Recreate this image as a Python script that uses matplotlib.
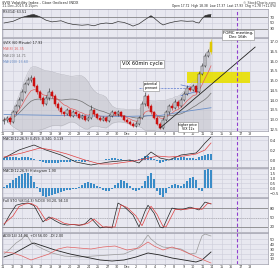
import numpy as np
import pandas as pd
import matplotlib
matplotlib.use("Agg")
import matplotlib.pyplot as plt

# ---- data ----
opens = [12.90, 12.97, 13.07, 12.86, 13.38, 13.69, 14.00, 14.41, 14.83, 15.03,
         15.13, 14.72, 14.41, 14.10, 13.79, 14.10, 14.41, 14.21, 13.79, 13.59,
         13.38, 13.28, 13.48, 13.17, 13.38, 13.28, 13.07, 13.17, 12.97, 13.07,
         13.48, 13.28, 13.07, 12.97, 13.07, 12.92, 13.17, 13.38, 13.28, 13.38,
         13.17, 12.97, 12.86, 12.76, 12.66, 12.76, 13.07, 13.79, 14.21, 13.69,
         13.38, 13.07, 12.76, 12.55, 12.97, 13.38, 13.69, 13.59, 13.90, 13.69,
         14.00, 14.31, 14.62, 14.52, 14.72, 14.41, 15.34, 15.75, 16.27, 16.47]
closes = [12.97, 13.07, 12.86, 13.38, 13.69, 14.00, 14.41, 14.83, 15.03, 15.13,
          14.72, 14.41, 14.10, 13.79, 14.10, 14.41, 14.21, 13.79, 13.59, 13.38,
          13.28, 13.48, 13.17, 13.38, 13.28, 13.07, 13.17, 12.97, 13.07, 13.48,
          13.28, 13.07, 12.97, 13.07, 12.92, 13.17, 13.38, 13.28, 13.38, 13.17,
          12.97, 12.86, 12.76, 12.66, 12.76, 13.07, 13.79, 14.21, 13.69, 13.38,
          13.07, 12.76, 12.55, 12.97, 13.38, 13.69, 13.59, 13.90, 13.69, 14.00,
          14.31, 14.62, 14.52, 14.72, 14.41, 15.34, 15.75, 16.27, 16.47, 16.99]
highs = [13.10, 13.18, 13.15, 13.50, 13.80, 14.15, 14.55, 14.95, 15.20, 15.30,
         15.22, 14.85, 14.50, 14.20, 14.25, 14.60, 14.50, 14.30, 13.90, 13.70,
         13.45, 13.60, 13.55, 13.50, 13.45, 13.35, 13.30, 13.25, 13.20, 13.75,
         13.55, 13.35, 13.15, 13.20, 13.15, 13.30, 13.50, 13.45, 13.50, 13.45,
         13.25, 13.05, 12.95, 12.85, 12.90, 13.20, 13.95, 14.40, 14.30, 13.80,
         13.45, 13.15, 12.85, 13.10, 13.50, 13.80, 13.85, 14.05, 14.00, 14.15,
         14.45, 14.75, 14.70, 14.85, 14.80, 15.50, 15.90, 16.45, 16.65, 17.15]
lows = [12.75, 12.88, 12.75, 12.80, 13.30, 13.60, 13.95, 14.35, 14.75, 14.95,
        14.65, 14.30, 14.00, 13.70, 13.72, 14.02, 14.10, 13.70, 13.50, 13.30,
        13.20, 13.22, 13.10, 13.12, 13.20, 13.00, 13.02, 12.90, 12.92, 13.02,
        13.20, 13.00, 12.90, 12.92, 12.85, 12.88, 13.10, 13.22, 13.20, 13.10,
        12.90, 12.80, 12.70, 12.60, 12.62, 12.70, 13.00, 13.70, 13.60, 13.30,
        13.00, 12.70, 12.48, 12.50, 12.90, 13.30, 13.50, 13.55, 13.60, 13.62,
        13.95, 14.25, 14.45, 14.48, 14.35, 14.35, 15.28, 15.70, 16.20, 16.40]

long_ma_x = [0, 20, 40, 52, 60, 69]
long_ma = [13.25, 13.20, 13.15, 13.20, 13.40, 13.60]

rsi_x = [0, 3, 6, 9, 10, 12, 14, 16, 19, 21, 23, 26, 28, 30, 32, 34, 36, 38, 40,
         42, 43, 45, 47, 49, 50, 52, 53, 55, 57, 59, 61, 63, 64, 65, 66, 67, 68, 69]
rsi = [50, 56, 70, 79, 80, 72, 60, 54, 58, 50, 45, 42, 44, 40, 47, 50, 48, 55, 52,
       44, 39, 47, 62, 76, 68, 50, 43, 50, 55, 58, 56, 57, 52, 50, 65, 76, 79, 80]

macd_x = [0, 5, 10, 14, 19, 24, 29, 35, 42, 45, 49, 52, 55, 59, 64, 65, 67, 69]
macd = [0.04, 0.20, 0.30, 0.20, 0.10, -0.04, -0.10, -0.04, 0.00, -0.06, 0.16,
        0.04, 0.00, 0.10, 0.14, 0.20, 0.34, 0.46]
signal_x = [0, 6, 12, 16, 21, 27, 32, 36, 42, 47, 51, 55, 60, 64, 67, 69]
signal = [0.06, 0.14, 0.24, 0.20, 0.12, 0.00, -0.08, -0.08, -0.03, 0.02, 0.08,
          0.06, 0.08, 0.12, 0.20, 0.34]
macd_hist = [0.05, 0.06, 0.06, 0.07, 0.06, 0.05, 0.06, 0.07, 0.06, 0.05,
             0.03, 0.01, -0.02, -0.04, -0.05, -0.06, -0.06, -0.05, -0.05, -0.04,
             -0.04, -0.03, -0.03, -0.02, -0.02, -0.02, -0.03, -0.03, -0.02, 0.00,
             0.01, 0.00, 0.00, 0.01, 0.02, 0.03, 0.04, 0.04, 0.03, 0.02,
             0.01, 0.00, -0.01, -0.02, -0.01, 0.02, 0.05, 0.08, 0.09, 0.07,
             0.03, -0.02, -0.05, -0.04, -0.02, 0.00, 0.02, 0.04, 0.05, 0.06,
             0.06, 0.05, 0.05, 0.04, 0.03, 0.06, 0.09, 0.11, 0.12, 0.12]

hist2 = [0.1, 0.3, 0.6, 0.9, 1.1, 1.3, 1.5, 1.6, 1.6, 1.3, 0.7, 0.1,
         -0.4, -0.8, -0.9, -0.8, -0.7, -0.6, -0.5, -0.4, -0.3, -0.2, -0.2, -0.1, -0.1,
         0.1, 0.3, 0.5, 0.7, 0.6, 0.4, 0.2, 0.1,
         -0.2, -0.3, -0.3, -0.1,
         0.3, 0.6, 0.9, 0.8, 0.5, 0.2,
         -0.2, -0.3, -0.2, 0.2,
         0.8, 1.3, 1.6, 1.0,
         -0.3, -0.7, -0.9, -0.5,
         0.1, 0.3, 0.4, 0.3, 0.2, 0.4,
         0.8, 1.1, 1.2, 0.9, -0.2, -0.3,
         1.9, 2.0, 1.9]

stoch_k_x = [0, 2, 4, 6, 8, 10, 13, 15, 17, 19, 21, 23, 25, 27, 29, 32, 34, 36, 38,
             40, 43, 45, 47, 48, 50, 52, 53, 56, 59, 62, 65, 67, 69]
stoch_k = [26, 60, 89, 94, 96, 88, 36, 52, 40, 30, 26, 28, 25, 30, 48, 17, 20, 17,
           96, 85, 58, 20, 70, 89, 64, 20, 17, 80, 74, 83, 74, 99, 93]
stoch_d_x = [0, 3, 5, 7, 9, 11, 14, 16, 18, 20, 22, 24, 26, 28, 30, 33, 35, 37, 39,
             41, 44, 46, 48, 49, 51, 53, 54, 57, 60, 63, 66, 68, 69]
stoch_d = [30, 55, 85, 93, 95, 85, 40, 50, 42, 32, 28, 27, 26, 32, 45, 20, 20, 20,
           90, 82, 55, 24, 66, 86, 60, 22, 20, 76, 75, 80, 76, 96, 94]

di_plus_x = [0, 2, 4, 6, 7, 8, 9, 11, 13, 16, 20, 25, 30, 35, 40, 44, 46, 47, 48,
             49, 51, 53, 56, 59, 62, 64, 65, 66, 67, 69]
di_plus = [20, 30, 42, 50, 58, 54, 44, 36, 30, 22, 16, 14, 16, 18, 20, 30, 40, 50,
           58, 50, 40, 34, 32, 30, 20, 22, 40, 56, 60, 56]
adx_x = [0, 3, 6, 9, 10, 13, 17, 22, 27, 32, 36, 40, 44, 48, 52, 56, 60, 64, 66, 69]
adx = [14, 20, 30, 40, 42, 36, 28, 20, 14, 8, 6, 8, 14, 22, 18, 12, 8, 4, 8, 24]
di_minus_x = [0, 3, 6, 9, 12, 15, 18, 21, 25, 29, 33, 37, 41, 45, 48, 50, 53, 56,
              59, 62, 65, 69]
di_minus = [24, 22, 16, 8, 14, 20, 30, 34, 32, 30, 34, 36, 28, 32, 44, 36, 28, 34,
            28, 20, 12, 2]

date_labels = ["11", "12", "13", "16", "17", "18", "19", "20", "23", "24", "25",
               "27", "30", "Dec", "2", "3", "4", "7", "8", "9", "10", "11", "14",
               "15", "16", "17", "18"]

# ---- layout ----
W, H = 280, 269
BG = "#e8e8f0"
GRID = "#cdcdda"
FOMC_X = 77.7
XLIM = (-0.67, 88)

fig = plt.figure(figsize=(W / 100, H / 100), dpi=100)
fig.patch.set_facecolor("white")


def panel(y0, y1):
    ax = fig.add_axes([2 / W, 1 - y1 / H, 266 / W, (y1 - y0) / H])
    ax.set_facecolor(BG)
    ax.set_xlim(*XLIM)
    for s in ax.spines.values():
        s.set_color("#9a9aa8")
        s.set_linewidth(0.5)
    ax.yaxis.tick_right()
    ax.tick_params(axis="y", labelsize=2.8, length=0, pad=1, colors="#333333")
    ax.tick_params(axis="x", length=0, labelbottom=False)
    day_pos = (np.arange(len(date_labels)) * 9.5 - 1) / 3
    ax.set_xticks(day_pos)
    ax.grid(True, color=GRID, lw=0.4)
    ax.set_axisbelow(True)
    ax.axvline(FOMC_X, color="#9040d0", lw=0.8, ls=(0, (3, 2)), zorder=5)
    return ax, day_pos


def legend(ax, items):
    for k, (txt, col) in enumerate(items):
        ax.text(0.005, 0.97 - k * 0.07, txt, transform=ax.transAxes, fontsize=2.4,
                color=col, va="top", ha="left")


idx = np.arange(len(closes))

# header
fig.text(2 / W, 1 - 3 / H, "$VIX Volatility Index - Cboe (Indices) INDX", fontsize=2.6,
         va="center", color="#222222")
fig.text(2 / W, 1 - 6.5 / H, "11-Dec-2015 4:15pm", fontsize=2.4, va="center",
         color="#444444")
fig.text(276 / W, 1 - 3 / H, "\u00a9 StockCharts.com", fontsize=2.4, va="center",
         ha="right", color="#444444")
fig.text(276 / W, 1 - 6.5 / H,
         "Open 17.72  High 18.38  Low 17.37  Last 17.93  Chg +1.78 (+11.0%)",
         fontsize=2.2, va="center", ha="right", color="#222222")

# RSI panel
ax_rsi, _ = panel(9, 37)
ax_rsi.set_ylim(0, 100)
ax_rsi.set_yticks([30, 50, 70])
ax_rsi.axhline(70, color="#777777", lw=0.5)
ax_rsi.axhline(30, color="#777777", lw=0.5)
ax_rsi.plot(rsi_x, rsi, color="#333333", lw=0.5)
ax_rsi.fill_between(rsi_x, rsi, 70, where=np.array(rsi) > 70, interpolate=True,
                    color="#333333", lw=0)
legend(ax_rsi, [("RSI(14) 63.51", "#222222")])

# main price panel
ax, day_pos = panel(38, 131)
ax.set_ylim(12.4, 17.2)
ax.set_yticks(np.arange(12.5, 17.01, 0.5))
ax.yaxis.set_major_formatter(matplotlib.ticker.FormatStrFormatter("%.1f"))

c = pd.Series(closes)
mid = c.rolling(20, min_periods=2).mean()
sd = c.rolling(20, min_periods=2).std()
ax.fill_between(idx, mid - 2 * sd, mid + 2 * sd, color="#c4c4cc", alpha=0.6, lw=0)
ax.plot(idx, mid - 2 * sd, color="#b0b0b8", lw=0.3)
ax.plot(idx, mid + 2 * sd, color="#b0b0b8", lw=0.3)
ax.plot(idx, mid, color="#707070", lw=0.5)
ax.plot(idx, c.ewm(span=8).mean(), color="#e06060", lw=0.5)
ax.plot(long_ma_x, long_ma, color="#6a8fc8", lw=0.6)

# yellow target zone and trend line
ax.fill_between([61, 82], 14.88, 15.44, color="#e8e000", alpha=0.9, lw=0, zorder=1)
ax.plot([52, 83.7], [12.55, 16.73], color="#222222", lw=0.6, zorder=4)
ax.plot([45, 62], [14.62, 14.62], color="#5a78d0", lw=0.5, ls=(0, (3, 1.5)))
ax.plot([59, 64.5], [14.78, 14.58], color="#5a78d0", lw=0.5)
ax.plot([59, 64.5], [14.22, 14.45], color="#5a78d0", lw=0.5)

for i in idx:
    o, cl, hi, lo = opens[i], closes[i], highs[i], lows[i]
    up = cl >= o
    col = "#222222" if up else "#cc1010"
    if i == len(closes) - 1:
        col = "#e0c800"
    ax.vlines(i, lo, hi, color=col, lw=0.4, zorder=3)
    body = max(abs(cl - o), 0.03)
    ax.bar(i, body, bottom=min(o, cl), width=0.75, zorder=3,
           facecolor=(BG if up and i != len(closes) - 1 else col),
           edgecolor=col, lw=0.35)

legend(ax, [("$VIX (60 Minute) 17.93", "#222222"), ("MA(8) 16.35", "#e06060"),
            ("MA(20) 14.71", "#707070"), ("MA(200) 13.60", "#6a8fc8")])

ax.tick_params(axis="x", labelbottom=True, labelsize=2.4, pad=0.5, colors="#333333")
ax.set_xticklabels(date_labels)

# MACD panel
ax_m, _ = panel(136, 167)
ax_m.set_ylim(-0.14, 0.48)
ax_m.set_yticks([0.0, 0.2, 0.4])
ax_m.bar(idx, macd_hist, width=0.8, color="#3a8cc8", lw=0)
ax_m.plot(macd_x, macd, color="#222222", lw=0.5)
ax_m.plot(signal_x, signal, color="#e04040", lw=0.5)
legend(ax_m, [("MACD(12,26,9) 0.459, 0.340, 0.119", "#222222")])

# histogram panel
ax_h, _ = panel(168, 197)
ax_h.set_ylim(-0.9, 2.1)
ax_h.set_yticks([-0.5, 0.0, 0.5, 1.0, 1.5, 2.0])
ax_h.bar(idx, hist2, width=0.8, color="#3a8cc8", lw=0)
legend(ax_h, [("MACD(12,26,9) Histogram 1.90", "#222222")])

# stochastic panel
ax_s, _ = panel(198, 232)
ax_s.set_ylim(4, 112)
ax_s.set_yticks([20, 50, 80])
ax_s.axhline(80, color="#777777", lw=0.5)
ax_s.axhline(20, color="#777777", lw=0.5)
ax_s.axhline(50, color="#999999", lw=0.4, ls=(0, (2, 2)))
ax_s.plot(stoch_k_x, stoch_k, color="#222222", lw=0.5)
ax_s.plot(stoch_d_x, stoch_d, color="#e04040", lw=0.5)
legend(ax_s, [("Full STO %K(14,3) %D(3) 93.20, 94.10", "#222222")])

# ADX panel
ax_a, _ = panel(233, 264)
ax_a.set_ylim(0, 62)
ax_a.set_yticks([10, 20, 30, 40, 50])
ax_a.plot(di_plus_x, di_plus, color="#999999", lw=0.5)
ax_a.plot(adx_x, adx, color="#222222", lw=0.6)
ax_a.plot(di_minus_x, di_minus, color="#e06060", lw=0.5)
legend(ax_a, [("ADX(14) 24.00  +DI 56.00  -DI 2.00", "#222222")])
ax_a.tick_params(axis="x", labelbottom=True, labelsize=2.4, pad=0.5, colors="#333333")
ax_a.set_xticklabels(date_labels)

# annotations
box = dict(boxstyle="square,pad=0.3", facecolor="white", edgecolor="#888888", lw=0.4)
fig.text(142 / W, 1 - 64 / H, "VIX 60min cycle", fontsize=3.6, ha="center",
         va="center", bbox=box)
fig.text(238 / W, 1 - 35 / H, "FOMC meeting,\nDec 16th", fontsize=2.8, ha="center",
         va="center", bbox=box, linespacing=1.1)
fig.text(151 / W, 1 - 86 / H, "potential\npennant", fontsize=2.3, ha="center",
         va="center", bbox=box, linespacing=1.1)
fig.text(188 / W, 1 - 127 / H, "higher price\nVIX 12s", fontsize=2.3, ha="center",
         va="center", bbox=box, linespacing=1.1)

fig.savefig("out.png", dpi=100, facecolor="white")
plt.close(fig)
